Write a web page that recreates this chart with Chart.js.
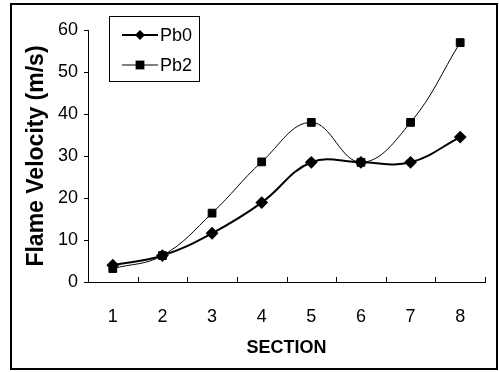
<!DOCTYPE html>
<html>
<head>
<meta charset="utf-8">
<script src="https://cdn.jsdelivr.net/npm/chart.js@4"></script>
<style>
  html, body { margin: 0; padding: 0; background: #fff; }
  canvas { display: block; }
</style>
</head>
<body>
<canvas id="grafico" width="499" height="372"></canvas>
<script>
// dados
const secoes = ['1', '2', '3', '4', '5', '6', '7', '8'];
const pb0 = [4.0, 6.3, 11.6, 18.9, 28.5, 28.5, 28.5, 34.5];
const pb2 = [3.2, 6.3, 16.4, 28.6, 38.0, 28.5, 38.0, 57.0];
const ticksY = [0, 10, 20, 30, 40, 50, 60];

const fonte = "'Liberation Sans', Arial, sans-serif";

// moldura externa + marcas do eixo x (para dentro) + legenda em caixa
const extras = {
    id: 'extras',
    afterDraw(chart) {
        const ctx = chart.ctx;
        const sx = chart.scales.x;
        ctx.save();
        ctx.strokeStyle = '#000';

        // moldura
        ctx.lineWidth = 2;
        ctx.strokeRect(11, 4, 486, 365);

        // marcas entre categorias
        ctx.lineWidth = 1;
        const meio = (sx.getPixelForValue(1) - sx.getPixelForValue(0)) / 2;
        for (let i = 0; i < secoes.length; i++) {
            const x = Math.round(sx.getPixelForValue(i) + meio) + 0.5;
            ctx.beginPath();
            ctx.moveTo(x, sx.top);
            ctx.lineTo(x, sx.top - 5);
            ctx.stroke();
        }

        // legenda
        ctx.lineWidth = 1;
        ctx.strokeRect(109.5, 16.5, 90, 65);
        chart.data.datasets.forEach((ds, i) => {
            const y = 35 + i * 30;
            ctx.lineWidth = ds.borderWidth;
            ctx.beginPath();
            ctx.moveTo(122, y);
            ctx.lineTo(158, y);
            ctx.stroke();
            ctx.fillStyle = '#000';
            const r = ds.pointRadius;
            ctx.beginPath();
            if (ds.pointStyle === 'rectRot') {
                ctx.moveTo(140, y - r); ctx.lineTo(140 + r, y);
                ctx.lineTo(140, y + r); ctx.lineTo(140 - r, y);
            } else {
                const h = r * 0.8;
                ctx.rect(140 - h, y - h, h * 2, h * 2);
            }
            ctx.closePath();
            ctx.fill();
            ctx.font = '18px ' + fonte;
            ctx.textBaseline = 'middle';
            ctx.fillText(ds.label, 160, y + 1);
        });
        ctx.restore();
    }
};

new Chart(document.getElementById('grafico'), {
    type: 'line',
    data: {
        labels: secoes,
        datasets: [
            { label: 'Pb0', data: pb0, borderColor: '#000', backgroundColor: '#000', borderWidth: 2,
              pointStyle: 'rectRot', pointRadius: 5, tension: 0.4 },
            { label: 'Pb2', data: pb2, borderColor: '#000', backgroundColor: '#000', borderWidth: 1,
              pointStyle: 'rect', pointRadius: 5.5, tension: 0.4 }
        ]
    },
    options: {
        responsive: false,
        animation: false,
        devicePixelRatio: 1,
        layout: { padding: { top: 30, right: 14, left: 0, bottom: 0 } },
        plugins: { legend: { display: false }, tooltip: { enabled: false } },
        scales: {
            x: {
                type: 'category',
                offset: true,
                grid: { display: false, drawTicks: false, offset: true },
                border: { display: true, color: '#000', width: 1 },
                ticks: { color: '#000', padding: 24, font: { family: fonte, size: 18 }, maxRotation: 0 },
                title: { display: true, text: 'SECTION', color: '#000',
                         font: { family: fonte, size: 18, weight: 'bold' }, padding: { top: 0, bottom: 13 } },
                afterFit(s) { s.height = 90; }
            },
            y: {
                min: 0, max: 60,
                afterBuildTicks(s) { s.ticks = ticksY.map(v => ({ value: v })); },
                grid: { drawOnChartArea: false, tickLength: 4, color: '#000' },
                border: { display: true, color: '#000', width: 1 },
                ticks: { color: '#000', padding: 6, font: { family: fonte, size: 18 } },
                title: { display: true, text: 'Flame Velocity (m/s)', color: '#000',
                         font: { family: fonte, size: 23, weight: 'bold' }, padding: { top: 23, bottom: 0 } },
                afterFit(s) { s.width = 88; }
            }
        }
    },
    plugins: [extras]
});
</script>
</body>
</html>
